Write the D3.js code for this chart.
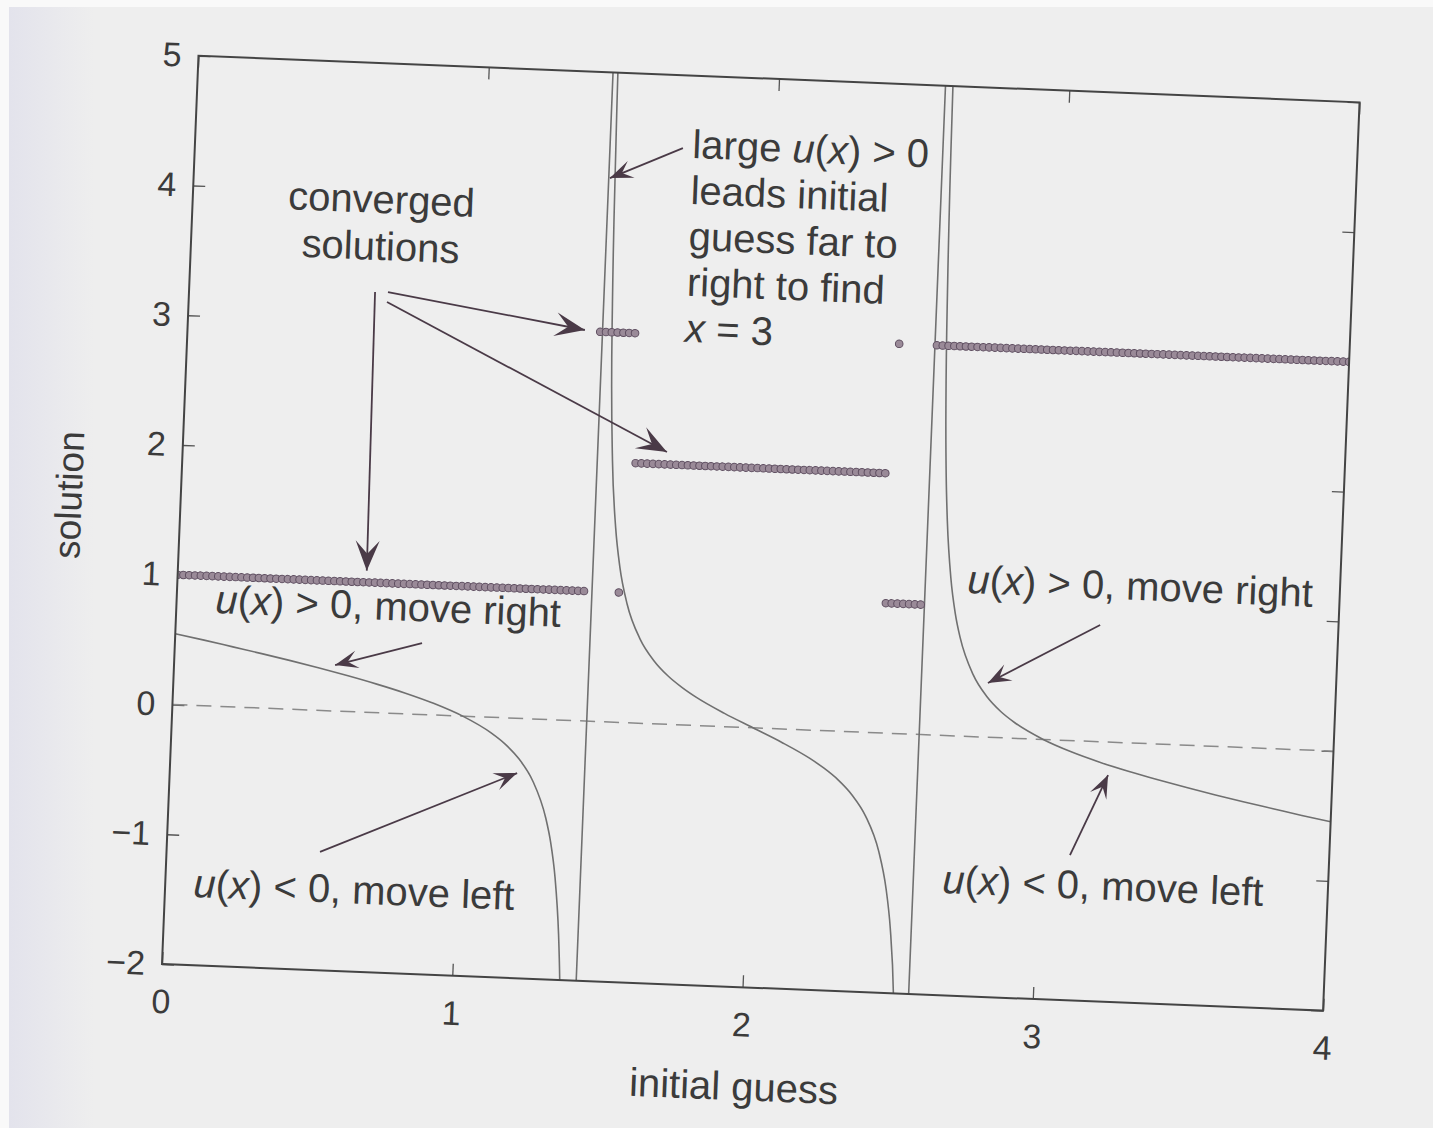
<!DOCTYPE html>
<html>
<head>
<meta charset="utf-8">
<script src="https://cdn.jsdelivr.net/npm/d3@7"></script>
<style>
  html, body { margin: 0; padding: 0; background: #eeeeee; }
  svg { display: block; }
  text { font-family: "Liberation Sans", Arial, Helvetica, sans-serif; fill: #3b3b3b; }
</style>
</head>
<body>
<svg id="chart" width="1433" height="1128"></svg>
<script>
// Newton step u(x) for the cubic with roots 1, 2, 3, sampled across both poles
const curveX = [0, 0.1, 0.2, 0.3, 0.4, 0.5, 0.6, 0.7, 0.8, 0.9, 1.0, 1.1, 1.15, 1.2, 1.25, 1.3,
  1.32, 1.34, 1.36, 1.37, 1.38, 1.39, 1.40, 1.41, 1.42, 1.43, 1.44, 1.45, 1.46, 1.48, 1.5, 1.52,
  1.55, 1.6, 1.65, 1.7, 1.75, 1.8, 1.9, 2.0, 2.1, 2.2, 2.25, 2.3, 2.35, 2.4, 2.45, 2.48, 2.5,
  2.52, 2.54, 2.55, 2.56, 2.57, 2.58, 2.59, 2.60, 2.61, 2.62, 2.63, 2.64, 2.66, 2.68, 2.7, 2.75,
  2.8, 2.85, 2.9, 3.0, 3.1, 3.2, 3.3, 3.4, 3.5, 3.6, 3.7, 3.8, 3.9, 4.0];
const curveU = [0.545, 0.505, 0.462, 0.419, 0.374, 0.326, 0.275, 0.220, 0.159, 0.088, 0, -0.120,
  -0.202, -0.313, -0.477, -0.760, -0.944, -1.214, -1.652, -1.993, -2.49, -3.29, -4.8, -8.68, -41.8,
  15.2, 6.49, 4.147, 3.055, 2.009, 1.5, 1.196, 0.914, 0.646, 0.486, 0.374, 0.289, 0.218, 0.102, 0,
  -0.102, -0.218, -0.289, -0.374, -0.486, -0.646, -0.914, -1.196, -1.5, -2.009, -3.055, -4.147,
  -6.49, -15.2, 41.8, 8.68, 4.8, 3.29, 2.49, 1.993, 1.652, 1.214, 0.944, 0.760, 0.477, 0.313,
  0.202, 0.120, 0, -0.088, -0.159, -0.220, -0.275, -0.326, -0.374, -0.419, -0.462, -0.505, -0.545];

// zero reference line
const zeroX = [0, 4];

// converged roots: runs of initial guesses and the root each run ends on
const runStart = [0.00, 1.42, 1.56, 2.44, 2.58];
const runEnd   = [1.40, 1.54, 2.42, 2.56, 4.00];
const runRoot  = [1, 3, 2, 1, 3];
const guessStep = 0.02;
const strayGuess = [1.52, 2.45];
const strayRoot  = [1, 3];

const xTicks = [0, 1, 2, 3, 4];
const yTicks = [-2, -1, 0, 1, 2, 3, 4, 5];

// annotation arrows, in data coordinates
const arrowFrom = [[0.640, 3.236], [0.6845, 3.240], [0.6825, 3.163], [1.679, 4.439],
                   [0.850, 0.550], [0.528, -1.089], [3.180, 0.8985], [3.108, -0.881]];
const arrowTo   = [[0.650, 1.09], [1.367, 3.009], [1.666, 2.096], [1.432, 4.186],
                   [0.554, 0.354], [1.195, -0.421], [2.802, 0.417], [3.228, -0.2535]];
const arrowBig  = [true, true, true, false, false, false, false, false];

const W = 1162, H = 909;
const svg = d3.select("#chart");

// page backdrop
const defs = svg.append("defs");
const grad = defs.append("linearGradient").attr("id", "edge").attr("x1", 0).attr("x2", 1);
grad.append("stop").attr("offset", 0).attr("stop-color", "#e3e3ec");
grad.append("stop").attr("offset", 1).attr("stop-color", "#eeeeee");
svg.append("rect").attr("width", 1433).attr("height", 1128).attr("fill", "#eeeeee");
svg.append("rect").attr("x", 9).attr("width", 85).attr("height", 1128).attr("fill", "url(#edge)");
svg.append("rect").attr("width", 9).attr("height", 1128).attr("fill", "#f9f9f9");
svg.append("rect").attr("width", 1433).attr("height", 7).attr("fill", "#f9f9f9");

defs.append("clipPath").attr("id", "plotclip")
  .append("rect").attr("width", W).attr("height", H);

function head(id, L, Wd, N) {
  defs.append("marker").attr("id", id)
    .attr("markerUnits", "userSpaceOnUse")
    .attr("viewBox", `${-L - 1} ${-Wd - 1} ${L + 2} ${2 * Wd + 2}`)
    .attr("markerWidth", L + 2).attr("markerHeight", 2 * Wd + 2)
    .attr("refX", 0).attr("refY", 0).attr("orient", "auto")
    .append("path").attr("d", `M0,0L${-L},${-Wd}L${-N},0L${-L},${Wd}Z`).attr("fill", "#4a3a47");
}
head("headBig", 30, 12, 17);
head("headSmall", 23, 9, 13);

// the whole figure sits slightly tilted
const g = svg.append("g").attr("transform", `translate(162,964) rotate(2.3) translate(0,${-H})`);

const x = d3.scaleLinear().domain([0, 4]).range([0, W]);
const y = d3.scaleLinear().domain([-2, 5]).range([H, 0]);

// axes with inward ticks on all four sides
const axL = g.append("g").call(d3.axisLeft(y).tickValues(yTicks).tickSize(-12).tickPadding(17).tickFormat(d3.format("d")));
const axB = g.append("g").attr("transform", `translate(0,${H})`)
  .call(d3.axisBottom(x).tickValues(xTicks).tickSize(-12).tickPadding(25).tickFormat(d3.format("d")));
const axT = g.append("g").call(d3.axisTop(x).tickValues(xTicks).tickSize(-12).tickFormat(""));
const axR = g.append("g").attr("transform", `translate(${W},0)`)
  .call(d3.axisRight(y).tickValues(yTicks).tickSize(-12).tickFormat(""));
[axL, axB, axT, axR].forEach(a => {
  a.select(".domain").remove();
  a.selectAll(".tick line").attr("stroke", "#555").attr("stroke-width", 1.3);
  a.selectAll(".tick text").attr("font-size", 34).attr("fill", "#404040")
    .attr("font-family", "'Liberation Sans', Arial, sans-serif");
});

const plot = g.append("g").attr("clip-path", "url(#plotclip)");

// dashed zero line
plot.append("line")
  .attr("x1", x(zeroX[0])).attr("x2", x(zeroX[1]))
  .attr("y1", y(0)).attr("y2", y(0))
  .attr("stroke", "#8a8a8a").attr("stroke-width", 1.5).attr("stroke-dasharray", "15,9");

// u(x) curve
const pts = curveX.map((v, i) => [v, curveU[i]]);
plot.append("path")
  .datum(pts)
  .attr("fill", "none").attr("stroke", "#707070").attr("stroke-width", 1.6)
  .attr("d", d3.line().x(d => x(d[0])).y(d => y(d[1])).curve(d3.curveMonotoneX));

// converged solutions for each initial guess
const solved = [];
runStart.forEach((s, i) => {
  d3.range(s, runEnd[i] + guessStep / 2, guessStep).forEach(v => solved.push([v, runRoot[i]]));
});
strayGuess.forEach((v, i) => solved.push([v, strayRoot[i]]));
plot.append("g").selectAll("circle").data(solved).join("circle")
  .attr("cx", d => x(d[0])).attr("cy", d => y(d[1])).attr("r", 3.8)
  .attr("fill", "#9a8a98").attr("stroke", "#5e4e60").attr("stroke-width", 1);

// frame
g.append("rect").attr("width", W).attr("height", H)
  .attr("fill", "none").attr("stroke", "#444").attr("stroke-width", 2);

// annotation arrows
g.append("g").selectAll("line").data(arrowFrom).join("line")
  .attr("x1", d => x(d[0])).attr("y1", d => y(d[1]))
  .attr("x2", (d, i) => x(arrowTo[i][0])).attr("y2", (d, i) => y(arrowTo[i][1]))
  .attr("stroke", "#4a3a47").attr("stroke-width", 1.8)
  .attr("marker-end", (d, i) => arrowBig[i] ? "url(#headBig)" : "url(#headSmall)");

// annotation text
const FS = 40;
function label(xv, yv, anchor, lines) {
  const t = g.append("text").attr("x", x(xv)).attr("y", y(yv))
    .attr("font-size", FS).attr("text-anchor", anchor).attr("fill", "#3d3d3d");
  lines.forEach((parts, li) => {
    parts.forEach((p, pi) => {
      const ts = t.append("tspan").text(p[0]);
      if (pi === 0) ts.attr("x", x(xv)).attr("dy", li === 0 ? 0 : "1.15em");
      if (p[1]) ts.attr("font-style", "italic");
    });
  });
  return t;
}
label(0.6495, 3.846, "middle", [[["converged"]]]);
label(0.6526, 3.484, "middle", [[["solutions"]]]);
label(1.7116, 4.366, "start", [
  [["large "], ["u", true], ["("], ["x", true], [") > 0"]],
  [["leads initial"]],
  [["guess far to"]],
  [["right to find"]],
  [["x", true], [" = 3"]]
]);
label(0.134, 0.717, "start", [[["u", true], ["("], ["x", true], [") > 0, move right"]]]);
label(0.0974, -1.475, "start", [[["u", true], ["("], ["x", true], [") < 0, move left"]]]);
label(2.7176, 1.103, "start", [[["u", true], ["("], ["x", true], [") > 0, move right"]]]);
label(2.673, -1.213, "start", [[["u", true], ["("], ["x", true], [") < 0, move left"]]]);

// axis titles
g.append("text").attr("x", x(1.983)).attr("y", H + 113)
  .attr("text-anchor", "middle").attr("font-size", 40).text("initial guess");
g.append("text").attr("transform", `translate(-99,${y(1.58)}) rotate(-90)`)
  .attr("text-anchor", "middle").attr("font-size", 37).text("solution");
</script>
</body>
</html>
